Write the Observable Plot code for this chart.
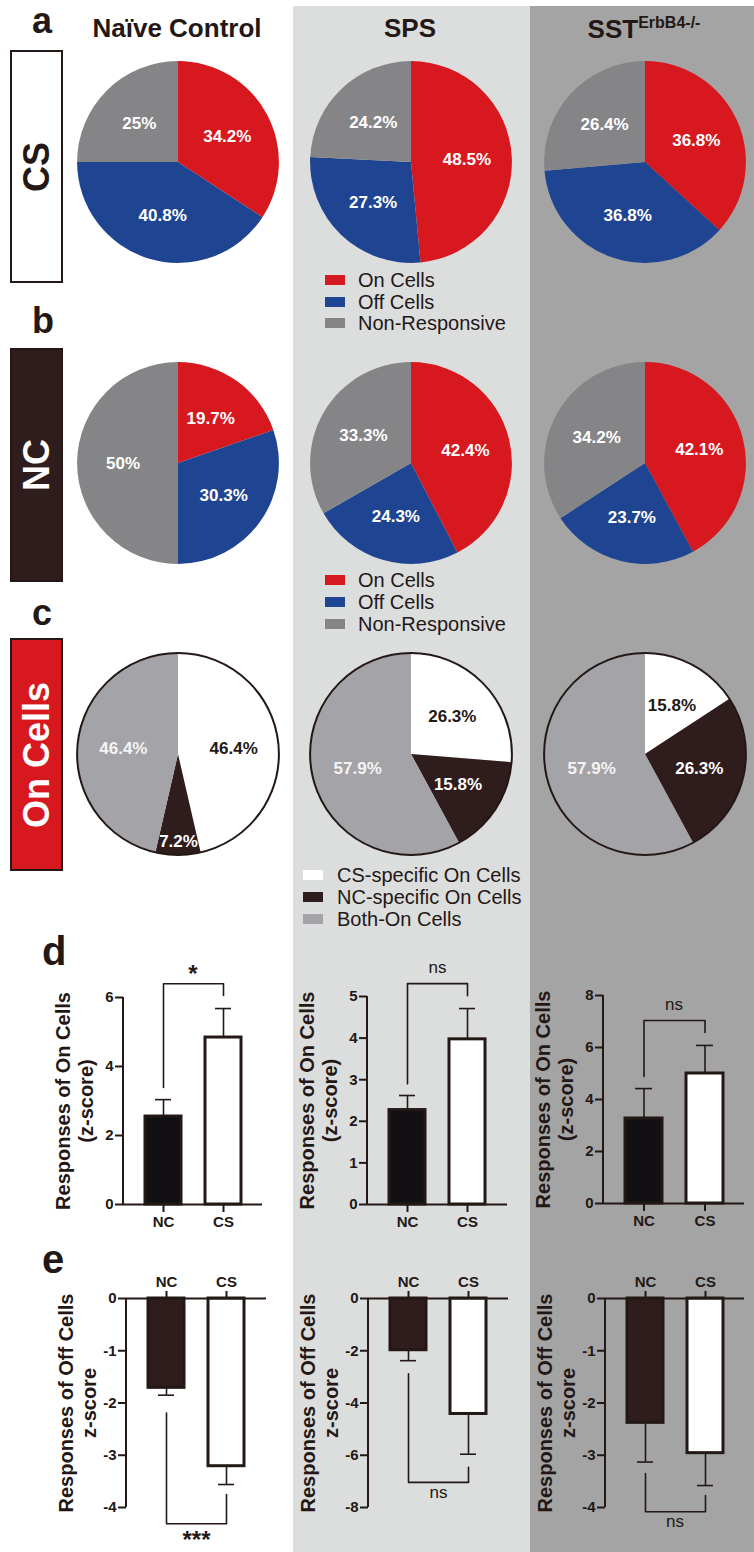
<!DOCTYPE html>
<html>
<head>
<meta charset="utf-8">
<script src="https://cdn.jsdelivr.net/npm/d3@7"></script>
<script src="https://cdn.jsdelivr.net/npm/@observablehq/plot@0.6"></script>
<style>
  body { margin: 0; background: #fff; font-family: "Liberation Sans", Arial, sans-serif; color: #231815; }
  #fig { position: relative; width: 754px; height: 1552px; overflow: hidden; background: #fff; }
  .txt { position: absolute; line-height: 1; white-space: nowrap; }
  .rowbox { position: absolute; left: 10px; width: 53px; box-sizing: border-box; border: 2px solid #231815; }
  .rowbox span { position: absolute; left: 50%; top: 50%; transform: translate(-50%, -50%) rotate(-90deg);
                 font-weight: bold; font-size: 36px; line-height: 1; white-space: nowrap; }
  .leg { position: absolute; display: flex; align-items: center; height: 22px; font-size: 20px; white-space: nowrap; }
  .leg i { display: inline-block; width: 20px; height: 10px; }
</style>
</head>
<body>
<div id="fig"></div>
<script>
// ---------------- data ----------------
const columnNames = ["Naïve Control", "SPS", "SST"];
const columnSup = ["", "", "ErbB4-/-"];
const rowNames = ["CS", "NC", "On Cells"];
const panelLetters = ["a", "b", "c", "d", "e"];

const responseTypes = ["On Cells", "Off Cells", "Non-Responsive"];
const csShare = [[34.2, 40.8, 25], [48.5, 27.3, 24.2], [36.8, 36.8, 26.4]];
const ncShare = [[19.7, 30.3, 50], [42.4, 24.3, 33.3], [42.1, 23.7, 34.2]];

const onTypes = ["CS-specific On Cells", "NC-specific On Cells", "Both-On Cells"];
const onShare = [[46.4, 7.2, 46.4], [26.3, 15.8, 57.9], [15.8, 26.3, 57.9]];

const groups = ["NC", "CS"];
const onMeans = [[2.55, 4.84], [2.27, 3.97], [3.27, 5.00]];
const onSems = [[0.49, 0.84], [0.35, 0.74], [1.15, 1.08]];
const onTicks = [[0, 2, 4, 6], [0, 1, 2, 3, 4, 5], [0, 2, 4, 6, 8]];
const onSig = ["*", "ns", "ns"];
const onBracket = [[3.39, 6.40, 6.06], [2.90, 5.31, 5.02], [4.88, 7.04, 6.58]];
const onLabel = "Responses of On Cells\n(z-score)";

const offMeans = [[-1.71, -3.21], [-1.98, -4.42], [-2.38, -2.96]];
const offSems = [[0.14, 0.35], [0.40, 1.54], [0.75, 0.62]];
const offTicks = [[0, -1, -2, -3, -4], [0, -2, -4, -6, -8], [0, -1, -2, -3, -4]];
const offSig = ["***", "ns", "ns"];
const offBracket = [[-2.19, -4.31, -3.75], [-2.88, -7.04, -6.46], [-3.35, -4.08, -3.77]];
const offLabel = "Responses of Off Cells\nz-score";

// ---------------- style / layout ----------------
const ink = "#231815";
const FONT = '"Liberation Sans", Arial, sans-serif';
const responseColors = ["#d7191f", "#1f4592", "#858587"];
const onColors = ["#ffffff", "#2e1d1c", "#a4a3a8"];
const onTextColors = [ink, "#ffffff", "#f4f4f4"];
const colBg = ["#ffffff", "#dcdddd", "#a4a4a4"];
const colX = [0, 293, 530, 754];
const pieX = [178, 411, 645];
const pieY = [162, 463, 754];
const dFrames = [[123, 262, 997, 1204], [367, 507, 996, 1204], [603, 744, 995, 1203]];
const eFrames = [[126, 266, 1298, 1507], [368, 508, 1298, 1507], [605, 744, 1298, 1507]];

const fig = document.getElementById("fig");

function place(node, left, top) {
  node.style.position = "absolute";
  node.style.left = left + "px";
  node.style.top = top + "px";
  fig.appendChild(node);
  return node;
}
function addText(html, x, baseline, size, opts = {}) {
  const d = document.createElement("div");
  d.className = "txt";
  d.innerHTML = html;
  d.style.fontSize = size + "px";
  d.style.fontWeight = opts.weight || "bold";
  d.style.color = opts.color || ink;
  place(d, x, baseline - 0.8465 * size);
  if (opts.center) d.style.transform = "translateX(-50%)";
  return d;
}

// column backgrounds
for (let c = 1; c < 3; c++) {
  const b = document.createElement("div");
  b.style.background = colBg[c];
  b.style.width = (colX[c + 1] - colX[c]) + "px";
  b.style.height = "1546px";
  place(b, colX[c], 6);
}

// ---------------- pies ----------------
function pieChart(values, colors, textColors, outline) {
  const total = d3.sum(values);
  let acc = 0;
  const labels = values.map((v, i) => {
    const a0 = acc / total * 2 * Math.PI; acc += v;
    const a1 = acc / total * 2 * Math.PI;
    const mid = (a0 + a1) / 2;
    const f = v / total < 0.1 ? 0.86 : 0.55;
    return {x: f * Math.sin(mid), y: f * Math.cos(mid), t: v + "%", c: textColors[i]};
  });
  const slices = (index, scales) => {
    const cx = scales.x(0), cy = scales.y(0), r = scales.x(1) - scales.x(0);
    const g = d3.create("svg:g").attr("transform", `translate(${cx},${cy})`);
    const arcs = d3.pie().sort(null).value(d => d)(values);
    g.selectAll("path").data(arcs).join("path")
      .attr("d", d3.arc().innerRadius(0).outerRadius(r))
      .attr("fill", (d, i) => colors[i]);
    if (outline) g.append("circle").attr("r", r).attr("fill", "none").attr("stroke", ink).attr("stroke-width", 2);
    return g.node();
  };
  return Plot.plot({
    width: 222, height: 222, margin: 0,
    x: {domain: [-1.1, 1.1], axis: null},
    y: {domain: [-1.1, 1.1], axis: null},
    color: {type: "identity"},
    style: {background: "transparent", overflow: "visible", fontFamily: FONT},
    marks: [
      slices,
      Plot.text(labels, {x: "x", y: "y", text: "t", fill: d => d.c, fontSize: 17, fontWeight: "bold"})
    ]
  });
}
const pieRows = [
  [csShare, responseColors, ["#fff", "#fff", "#fff"], false],
  [ncShare, responseColors, ["#fff", "#fff", "#fff"], false],
  [onShare, onColors, onTextColors, true]
];
pieRows.forEach(([shares, colors, tcol, outline], r) => {
  shares.forEach((vals, c) => {
    place(pieChart(vals, colors, tcol, outline), pieX[c] - 111, pieY[r] - 111);
  });
});

// ---------------- bars ----------------
function barChart({means, sems, ticks, sig, bracket, dir, ylabel, ncFill, frame, col, top, bottom}) {
  const [fx0, fx1, fy0, fy1] = frame;
  const bx = colX[col], bw = colX[col + 1] - colX[col];
  const data = groups.map((g, i) => ({g, m: means[i], s: sems[i]}));
  const yDomain = dir > 0 ? [0, d3.max(ticks)] : [d3.min(ticks), 0];
  const br = [{g: "NC", v: bracket[0]}, {g: "NC", v: bracket[1]}, {g: "CS", v: bracket[1]}, {g: "CS", v: bracket[2]}];
  const isAst = sig.startsWith("*");
  const sigDy = (dir > 0 ? -15 : 11) + (isAst ? 6 : -1);
  const yAxisLine = (index, scales, values, dims) =>
    d3.create("svg:line")
      .attr("x1", dims.marginLeft).attr("x2", dims.marginLeft)
      .attr("y1", scales.y(yDomain[0])).attr("y2", scales.y(yDomain[1]))
      .attr("stroke", ink).attr("stroke-width", 2).node();
  return Plot.plot({
    width: bw, height: bottom - top,
    marginLeft: fx0 - bx, marginRight: bx + bw - fx1,
    marginTop: fy0 - top, marginBottom: bottom - fy1,
    x: {domain: groups, paddingInner: 0.4, paddingOuter: 0.35},
    y: {domain: yDomain},
    color: {type: "identity"},
    style: {background: "transparent", overflow: "visible", fontFamily: FONT, color: ink, fontSize: "15px", fontWeight: "bold"},
    marks: [
      Plot.ruleX(data, {x: "g", y1: "m", y2: d => d.m + dir * d.s, stroke: ink, strokeWidth: 1.6}),
      Plot.tickY(data, {x: "g", y: d => d.m + dir * d.s, insetLeft: 10, insetRight: 10, stroke: ink, strokeWidth: 1.6}),
      Plot.barY(data, {x: "g", y1: 0, y2: "m", fill: d => d.g === "NC" ? ncFill : "#ffffff", stroke: ink, strokeWidth: 3}),
      Plot.line(br, {x: "g", y: "v", stroke: ink, strokeWidth: 1.6}),
      Plot.text([{t: sig, v: bracket[1]}], {y: "v", text: "t", frameAnchor: "middle", dy: sigDy,
        fontSize: isAst ? 24 : 17, fontWeight: isAst ? "bold" : "normal", fill: ink}),
      Plot.ruleY([0], {stroke: ink, strokeWidth: 2}),
      yAxisLine,
      Plot.axisY(ticks, {tickFormat: d => String(d), tickSize: 8, tickPadding: 2, strokeWidth: 2, stroke: ink, fill: ink, label: null}),
      Plot.axisX({anchor: dir > 0 ? "bottom" : "top", tickSize: 8, tickPadding: 4, strokeWidth: 2, stroke: ink, fill: ink, label: null}),
      Plot.text([ylabel], {frameAnchor: "left", textAnchor: "middle", lineAnchor: "middle", dx: -49, rotate: -90,
        fontSize: 20, fontWeight: "bold", lineHeight: 1.15, fill: ink})
    ]
  });
}
for (let c = 0; c < 3; c++) {
  place(barChart({means: onMeans[c], sems: onSems[c], ticks: onTicks[c], sig: onSig[c], bracket: onBracket[c],
    dir: 1, ylabel: onLabel, ncFill: "#121013", frame: dFrames[c], col: c, top: 930, bottom: 1240}), colX[c], 930);
  place(barChart({means: offMeans[c], sems: offSems[c], ticks: offTicks[c], sig: offSig[c], bracket: offBracket[c],
    dir: -1, ylabel: offLabel, ncFill: "#2e1d1c", frame: eFrames[c], col: c, top: 1240, bottom: 1552}), colX[c], 1240);
}

// ---------------- text / labels ----------------
columnNames.forEach((n, c) => {
  const html = columnSup[c] ? `${n}<span style="font-size:16px;vertical-align:10px">${columnSup[c]}</span>` : n;
  addText(html, pieX[c] - 1, 37, 26, {center: true});
});
addText(panelLetters[0], 32, 33, 36);
addText(panelLetters[1], 32, 333, 36);
addText(panelLetters[2], 32, 625, 36);
addText(panelLetters[3], 42, 965, 40);
addText(panelLetters[4], 42, 1273, 40);

const boxes = [
  {top: 50, h: 233, bg: "#ffffff", fg: ink},
  {top: 348, h: 234, bg: "#2e1d1c", fg: "#ffffff"},
  {top: 638, h: 233, bg: "#d7191f", fg: "#ffffff"}
];
rowNames.forEach((n, i) => {
  const b = document.createElement("div");
  b.className = "rowbox";
  b.style.top = boxes[i].top + "px";
  b.style.height = boxes[i].h + "px";
  b.style.background = boxes[i].bg;
  const s = document.createElement("span");
  s.textContent = n;
  s.style.color = boxes[i].fg;
  b.appendChild(s);
  fig.appendChild(b);
});

// legends
function legend(names, colors, x, ys, textX) {
  names.forEach((n, i) => {
    const row = document.createElement("div");
    row.className = "leg";
    const sw = document.createElement("i");
    sw.style.background = colors[i];
    const t = document.createElement("span");
    t.textContent = n;
    t.style.marginLeft = (textX - x - 20) + "px";
    row.appendChild(sw); row.appendChild(t);
    place(row, x, ys[i] - 11);
  });
}
legend(responseTypes, responseColors, 325, [280, 302, 323], 358);
legend(responseTypes, responseColors, 325, [580, 602, 624], 358);
legend(onTypes, onColors, 303, [875, 897, 919], 337);
</script>
</body>
</html>
